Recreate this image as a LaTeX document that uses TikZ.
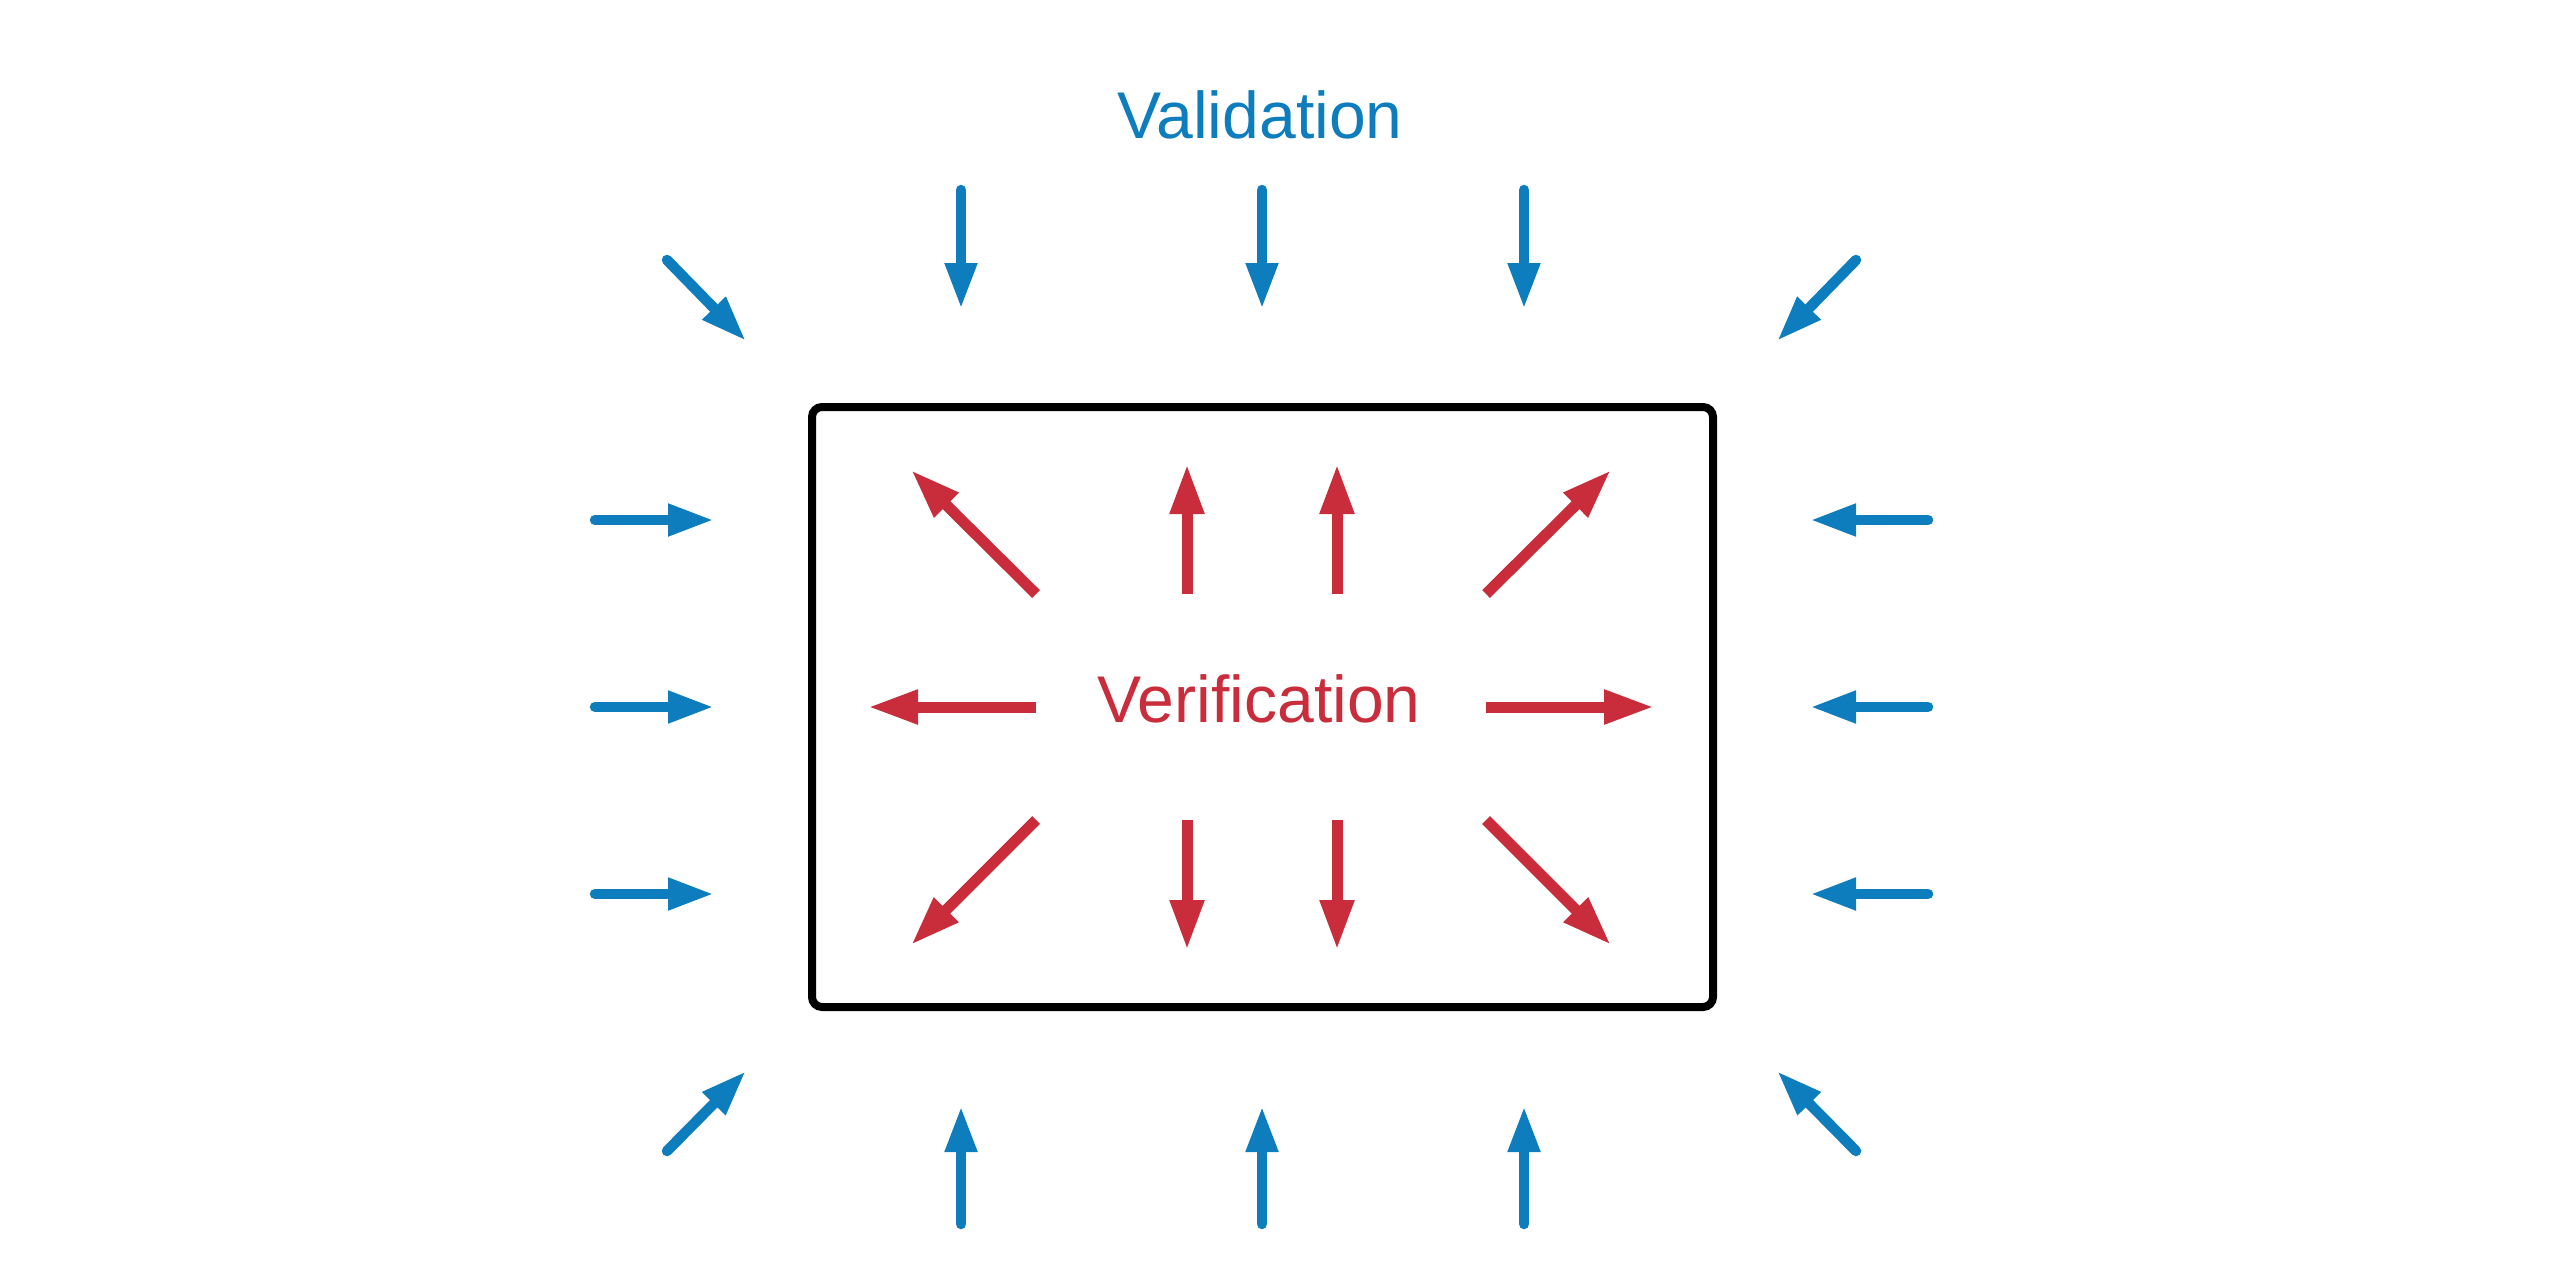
\documentclass[tikz,border=0pt]{standalone}
\usepackage{fontspec}
\setmainfont{Liberation Sans}
\usetikzlibrary{arrows.meta}

\definecolor{valblue}{HTML}{0E7DBE}
\definecolor{verred}{HTML}{C92D3B}

\begin{document}
\begin{tikzpicture}[
      valarrow/.style={draw=valblue,line width=1.05mm,line cap=round,
        -{Triangle[length=4.6mm,width=3mm]}},
      verarrow/.style={draw=verred,line width=1.1mm,line cap=butt,
        -{Triangle[length=5mm,width=3.2mm]}},
      frame/.style={draw=black,line width=0.8mm,rounded corners=1mm,
        minimum width=9.01cm,minimum height=6cm,inner sep=0pt},
      label/.style={font=\fontsize{18.8}{22}\selectfont,anchor=base}]
      \useasboundingbox (0,0) rectangle (25.5,12.6);

      \node[frame] (box) at (12.625, 5.53) {};
      \node[label,text=valblue] (val) at (12.60,11.22) {Validation};
      \node[label,text=verred] (ver) at (12.59, 5.38) {Verification};

      % validation, from outside
      \draw[valarrow] ( 9.61,10.70) -- ( 9.61, 9.51);
      \draw[valarrow] (12.62,10.70) -- (12.62, 9.51);
      \draw[valarrow] (15.24,10.70) -- (15.24, 9.51);
      \draw[valarrow] ( 9.61, 0.36) -- ( 9.61, 1.54);
      \draw[valarrow] (12.62, 0.36) -- (12.62, 1.54);
      \draw[valarrow] (15.24, 0.36) -- (15.24, 1.54);

      \draw[valarrow] ( 6.67,10.00) -- ( 7.46, 9.19);
      \draw[valarrow] (18.56,10.00) -- (17.77, 9.19);
      \draw[valarrow] ( 6.67, 1.09) -- ( 7.46, 1.89);
      \draw[valarrow] (18.56, 1.09) -- (17.77, 1.89);

      \draw[valarrow] ( 5.95, 7.40) -- ( 7.14, 7.40);
      \draw[valarrow] ( 5.95, 5.53) -- ( 7.14, 5.53);
      \draw[valarrow] ( 5.95, 3.66) -- ( 7.14, 3.66);
      \draw[valarrow] (19.28, 7.40) -- (18.10, 7.40);
      \draw[valarrow] (19.28, 5.53) -- (18.10, 5.53);
      \draw[valarrow] (19.28, 3.66) -- (18.10, 3.66);

      % verification, from inside
      \draw[verarrow] (11.87, 6.66) -- (11.87, 7.96);
      \draw[verarrow] (13.37, 6.66) -- (13.37, 7.96);
      \draw[verarrow] (11.87, 4.40) -- (11.87, 3.10);
      \draw[verarrow] (13.37, 4.40) -- (13.37, 3.10);

      \draw[verarrow] (10.36, 6.66) -- ( 9.11, 7.90);
      \draw[verarrow] (14.86, 6.66) -- (16.11, 7.90);
      \draw[verarrow] (10.36, 4.40) -- ( 9.11, 3.15);
      \draw[verarrow] (14.86, 4.40) -- (16.11, 3.15);

      \draw[verarrow] (10.36, 5.53) -- ( 8.68, 5.53);
      \draw[verarrow] (14.86, 5.53) -- (16.54, 5.53);
\end{tikzpicture}
\end{document}
